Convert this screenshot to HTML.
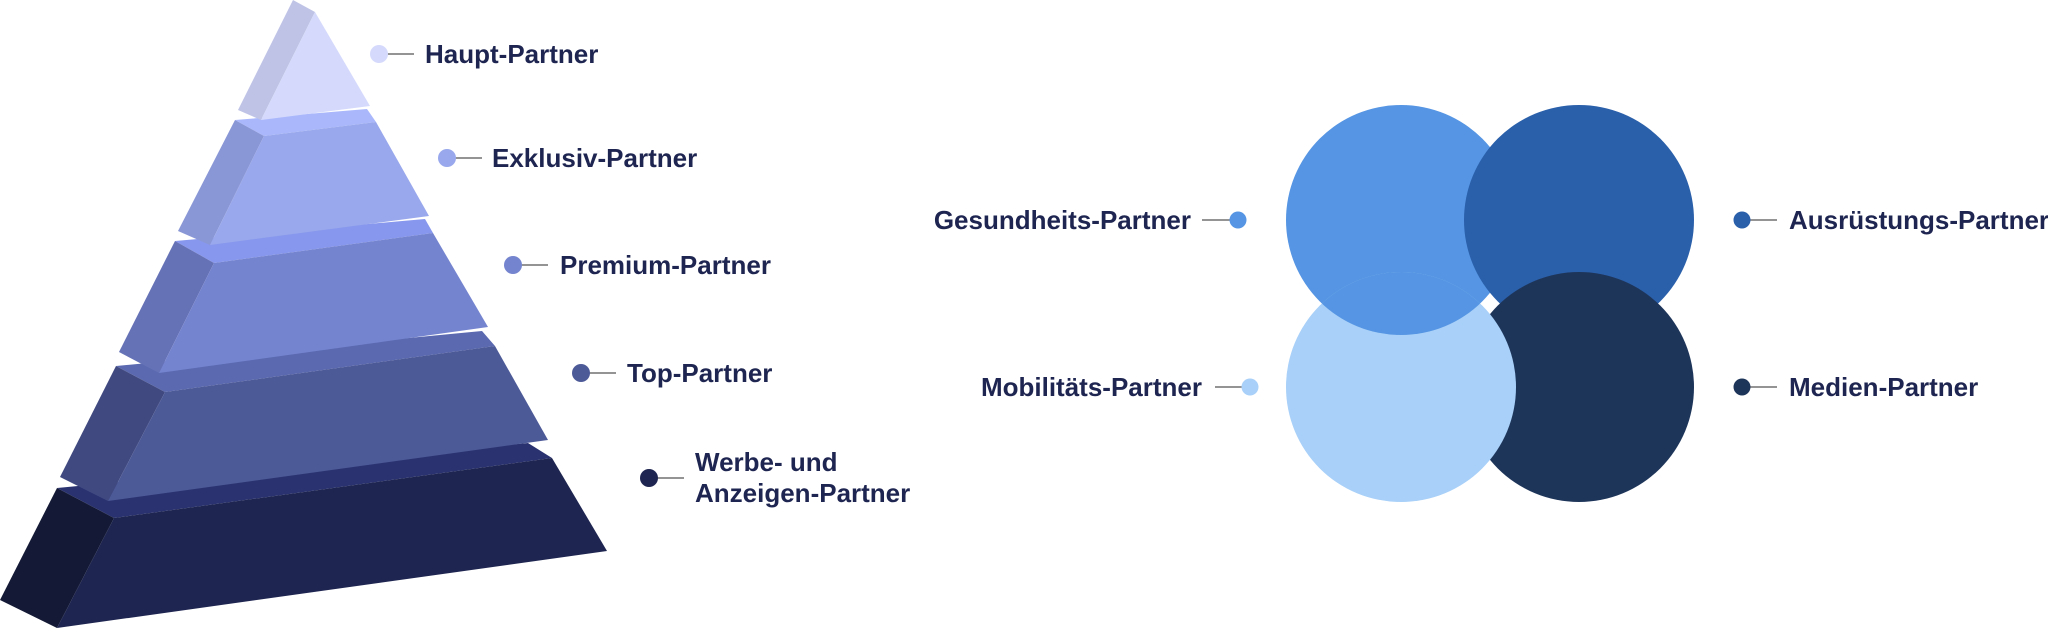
<!DOCTYPE html>
<html><head><meta charset="utf-8"><style>
html,body{margin:0;padding:0;background:#fff;}
body{width:2048px;height:629px;overflow:hidden;position:relative;font-family:"Liberation Sans",sans-serif;}
.t{position:absolute;font-size:26px;font-weight:bold;color:#1e2550;white-space:nowrap;line-height:31px;}
</style></head><body>
<svg width="2048" height="629" style="position:absolute;left:0;top:0">
<polygon points="57,488 528,443 552,458 114,518" fill="#2a3370"/>
<polygon points="57,488 114,518 57,628 0,600" fill="#141a35"/>
<polygon points="114,518 552,458 607,551 57,628" fill="#1e2550"/>
<polygon points="116,366 482,331 495,346 165,392" fill="#5a69b0"/>
<polygon points="116,366 165,392 108,501 60,477" fill="#414a80"/>
<polygon points="165,392 495,346 548,440 108,501" fill="#4d5a98"/>
<polygon points="175,241 425,219 433,233 214,263" fill="#8797ed"/>
<polygon points="175,241 214,263 159,373 119,352" fill="#6672b6"/>
<polygon points="214,263 433,233 488,327 159,373" fill="#7584cf"/>
<polygon points="235,120 367,109 376,122 264,136" fill="#aab8fb"/>
<polygon points="235,120 264,136 210,245 178,231" fill="#8a97d6"/>
<polygon points="264,136 376,122 429,216 210,245" fill="#99a8ec"/>
<polygon points="293,0 315,12 261,120 238,110" fill="#bfc4e6"/>
<polygon points="315,12 370,106 261,120" fill="#d5dafc"/>
<g stroke="#555" stroke-width="1.2">
<line x1="379" y1="54" x2="414" y2="54"/>
<line x1="447" y1="158" x2="482" y2="158"/>
<line x1="513" y1="265" x2="548" y2="265"/>
<line x1="581" y1="373" x2="616" y2="373"/>
<line x1="649" y1="478" x2="684" y2="478"/>
<line x1="1202" y1="220" x2="1238" y2="220"/>
<line x1="1742" y1="220" x2="1777" y2="220"/>
<line x1="1215" y1="387" x2="1250" y2="387"/>
<line x1="1742" y1="387" x2="1777" y2="387"/>
</g>
<circle cx="379" cy="54" r="9" fill="#d5dafc"/>
<circle cx="447" cy="158" r="9" fill="#99a8ec"/>
<circle cx="513" cy="265" r="9" fill="#7584cf"/>
<circle cx="581" cy="373" r="9" fill="#4d5a98"/>
<circle cx="649" cy="478" r="9" fill="#1e2550"/>
<defs><clipPath id="c1"><circle cx="1401" cy="220" r="115"/></clipPath></defs>
<circle cx="1401" cy="220" r="115" fill="#5595e3"/>
<circle cx="1579" cy="220" r="115" fill="#2a5faa"/>
<circle cx="1579" cy="387" r="115" fill="#1e355a"/>
<circle cx="1401" cy="387" r="115" fill="#a8d0f8"/>
<circle cx="1401" cy="387" r="115" fill="#5595e3" clip-path="url(#c1)"/>
<circle cx="1238" cy="220" r="8.5" fill="#5595e3"/>
<circle cx="1742" cy="220" r="8.5" fill="#2a5faa"/>
<circle cx="1250" cy="387" r="8.5" fill="#a8d0f8"/>
<circle cx="1742" cy="387" r="8.5" fill="#1e355a"/>
</svg>
<div class="t" style="left:425px;top:39px">Haupt-Partner</div>
<div class="t" style="left:492px;top:143px">Exklusiv-Partner</div>
<div class="t" style="left:560px;top:250px">Premium-Partner</div>
<div class="t" style="left:627px;top:358px">Top-Partner</div>
<div class="t" style="left:695px;top:447px">Werbe- und<br>Anzeigen-Partner</div>
<div class="t" style="right:857px;top:205px">Gesundheits-Partner</div>
<div class="t" style="right:846px;top:372px">Mobilitäts-Partner</div>
<div class="t" style="left:1789px;top:205px">Ausrüstungs-Partner</div>
<div class="t" style="left:1789px;top:372px">Medien-Partner</div>
</body></html>
